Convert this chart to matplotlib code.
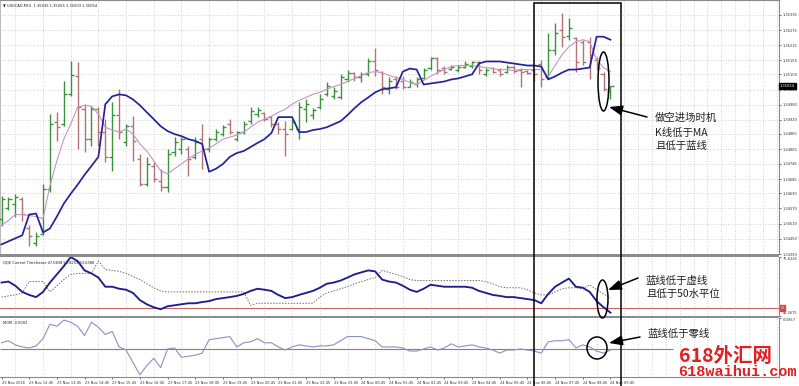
import matplotlib
matplotlib.use("Agg")
import matplotlib.pyplot as plt
from matplotlib.patches import Ellipse, Rectangle
from matplotlib.transforms import blended_transform_factory
import numpy as np

# ---------------- data ----------------
opens = [1.34530, 1.34570, 1.34589, 1.34609, 1.34491, 1.34432, 1.34471, 1.34648, 1.34911, 1.34903,
         1.35021, 1.35092, 1.34962, 1.34844, 1.34962, 1.34872, 1.34774, 1.34939, 1.34833, 1.34895,
         1.34766, 1.34668, 1.34738, 1.34679, 1.34656, 1.34793, 1.34805, 1.34805, 1.34774, 1.34844,
         1.34805, 1.34844, 1.34864, 1.34903, 1.34844, 1.34872, 1.34915, 1.34943, 1.34946, 1.34931,
         1.34903, 1.34884, 1.34884, 1.34884, 1.34962, 1.34939, 1.34970, 1.35021, 1.35013, 1.35009,
         1.35080, 1.35107, 1.35088, 1.35100, 1.35151, 1.35111, 1.35041, 1.35080, 1.35072, 1.35052,
         1.35060, 1.35084, 1.35127, 1.35166, 1.35127, 1.35123, 1.35119, 1.35131, 1.35135, 1.35147,
         1.35103, 1.35127, 1.35119, 1.35111, 1.35131, 1.35119, 1.35115, 1.35119, 1.35143, 1.35088,
         1.35198, 1.35276, 1.35253, 1.35245, 1.35229, 1.35229, 1.35158, 1.35100, 1.35035]
highs = [1.34621, 1.34617, 1.34628, 1.34617, 1.34503, 1.34475, 1.34668, 1.34943, 1.34950, 1.35072,
         1.35151, 1.35147, 1.34982, 1.34974, 1.34970, 1.34923, 1.34990, 1.35041, 1.34903, 1.34935,
         1.34785, 1.34774, 1.34754, 1.34727, 1.34805, 1.34852, 1.34852, 1.34817, 1.34852, 1.34903,
         1.34852, 1.34884, 1.34899, 1.34923, 1.34876, 1.34915, 1.34970, 1.34970, 1.34950, 1.34935,
         1.34911, 1.34915, 1.34923, 1.34990, 1.35001, 1.34966, 1.35021, 1.35068, 1.35049, 1.35100,
         1.35119, 1.35111, 1.35111, 1.35166, 1.35206, 1.35115, 1.35088, 1.35092, 1.35092, 1.35080,
         1.35088, 1.35127, 1.35170, 1.35170, 1.35135, 1.35139, 1.35139, 1.35151, 1.35151, 1.35151,
         1.35127, 1.35131, 1.35127, 1.35139, 1.35139, 1.35127, 1.35119, 1.35127, 1.35158, 1.35264,
         1.35304, 1.35343, 1.35323, 1.35249, 1.35237, 1.35249, 1.35170, 1.35111, 1.35055]
lows = [1.34499, 1.34562, 1.34538, 1.34522, 1.34420, 1.34420, 1.34464, 1.34636, 1.34837, 1.34895,
        1.35013, 1.34805, 1.34793, 1.34817, 1.34817, 1.34754, 1.34719, 1.34844, 1.34817, 1.34758,
        1.34660, 1.34660, 1.34676, 1.34640, 1.34636, 1.34778, 1.34785, 1.34699, 1.34766, 1.34727,
        1.34793, 1.34837, 1.34856, 1.34864, 1.34837, 1.34864, 1.34903, 1.34931, 1.34915, 1.34891,
        1.34864, 1.34778, 1.34880, 1.34844, 1.34911, 1.34923, 1.34962, 1.35013, 1.35001, 1.35001,
        1.35068, 1.35072, 1.35068, 1.35092, 1.35092, 1.35021, 1.35021, 1.35041, 1.35041, 1.35049,
        1.35052, 1.35080, 1.35119, 1.35100, 1.35100, 1.35119, 1.35111, 1.35127, 1.35127, 1.35100,
        1.35092, 1.35107, 1.35092, 1.35107, 1.35107, 1.35052, 1.35100, 1.35072, 1.35049, 1.35080,
        1.35178, 1.35209, 1.35237, 1.35111, 1.35139, 1.35080, 1.35119, 1.35033, 1.35003]
closes = [1.34609, 1.34609, 1.34617, 1.34550, 1.34460, 1.34460, 1.34648, 1.34903, 1.34891, 1.35021,
          1.35096, 1.34970, 1.34844, 1.34962, 1.34872, 1.34774, 1.34939, 1.34872, 1.34895, 1.34837,
          1.34668, 1.34746, 1.34687, 1.34656, 1.34785, 1.34833, 1.34844, 1.34766, 1.34833, 1.34805,
          1.34844, 1.34872, 1.34891, 1.34872, 1.34872, 1.34903, 1.34954, 1.34958, 1.34923, 1.34903,
          1.34884, 1.34864, 1.34911, 1.34970, 1.34982, 1.34958, 1.35001, 1.35056, 1.35033, 1.35088,
          1.35107, 1.35088, 1.35103, 1.35151, 1.35119, 1.35049, 1.35072, 1.35052, 1.35049, 1.35068,
          1.35080, 1.35119, 1.35166, 1.35119, 1.35111, 1.35131, 1.35131, 1.35143, 1.35147, 1.35119,
          1.35119, 1.35111, 1.35100, 1.35131, 1.35115, 1.35111, 1.35107, 1.35103, 1.35080, 1.35198,
          1.35264, 1.35249, 1.35284, 1.35147, 1.35147, 1.35178, 1.35127, 1.35041, 1.35054]
ma_line = [1.34503, 1.34522, 1.34546, 1.34546, 1.34542, 1.34538, 1.34530, 1.34660, 1.34758, 1.34844,
           1.34903, 1.34970, 1.34978, 1.34974, 1.34943, 1.34891, 1.34880, 1.34872, 1.34884, 1.34864,
           1.34825, 1.34797, 1.34758, 1.34719, 1.34707, 1.34727, 1.34746, 1.34766, 1.34785, 1.34797,
           1.34809, 1.34825, 1.34844, 1.34852, 1.34860, 1.34872, 1.34891, 1.34911, 1.34923, 1.34935,
           1.34950, 1.34962, 1.34982, 1.34997, 1.35009, 1.35021, 1.35029, 1.35041, 1.35052, 1.35060,
           1.35072, 1.35084, 1.35096, 1.35107, 1.35111, 1.35107, 1.35096, 1.35088, 1.35080, 1.35068,
           1.35060, 1.35076, 1.35092, 1.35107, 1.35119, 1.35131, 1.35135, 1.35135, 1.35135, 1.35131,
           1.35127, 1.35123, 1.35119, 1.35119, 1.35115, 1.35119, 1.35119, 1.35119, 1.35119, 1.35092,
           1.35135, 1.35178, 1.35209, 1.35229, 1.35237, 1.35229, 1.35158, 1.35127, 1.35111]
blue_line = [1.34428, 1.34440, 1.34452, 1.34464, 1.34546, 1.34550, 1.34475, 1.34491, 1.34538, 1.34589,
             1.34628, 1.34664, 1.34703, 1.34738, 1.34774, 1.34982, 1.35013, 1.35021, 1.35017, 1.35001,
             1.34978, 1.34950, 1.34923, 1.34895, 1.34876, 1.34864, 1.34856, 1.34844, 1.34837, 1.34825,
             1.34715, 1.34727, 1.34746, 1.34774, 1.34789, 1.34797, 1.34813, 1.34829, 1.34844, 1.34868,
             1.34931, 1.34931, 1.34931, 1.34872, 1.34872, 1.34880, 1.34884, 1.34891, 1.34903, 1.34915,
             1.34939, 1.34966, 1.34990, 1.35009, 1.35029, 1.35041, 1.35045, 1.35049, 1.35111, 1.35123,
             1.35119, 1.35060, 1.35064, 1.35068, 1.35072, 1.35080, 1.35084, 1.35092, 1.35100, 1.35143,
             1.35151, 1.35151, 1.35151, 1.35147, 1.35143, 1.35139, 1.35135, 1.35135, 1.35131, 1.35080,
             1.35092, 1.35107, 1.35119, 1.35119, 1.35123, 1.35127, 1.35249, 1.35249, 1.35237]
qqe_rsi = [62.8, 63.3, 61.2, 58.1, 56.6, 55.5, 58.1, 62.8, 66.9, 71.0,
           75.6, 73.6, 68.9, 67.4, 65.3, 60.7, 60.7, 59.7, 59.2, 57.6,
           54.0, 51.9, 50.4, 49.4, 50.9, 51.4, 51.9, 52.4, 52.4, 53.0,
           53.5, 54.5, 55.0, 55.5, 56.1, 57.1, 58.6, 59.7, 59.2, 58.6,
           56.6, 55.0, 55.5, 56.6, 57.6, 58.6, 60.2, 62.2, 62.8, 63.8,
           65.3, 66.9, 67.9, 68.9, 68.4, 64.3, 63.3, 62.8, 61.2, 59.2,
           58.1, 59.7, 61.7, 61.2, 60.7, 60.7, 60.7, 60.7, 60.2, 58.6,
           57.6, 56.6, 56.1, 55.5, 55.5, 55.0, 54.5, 54.0, 52.4, 57.1,
           60.7, 62.8, 64.8, 60.7, 60.2, 58.1, 53.5, 50.4, 47.7]
qqe_trail = [55.5, 56.1, 56.6, 57.6, 63.3, 63.3, 63.3, 58.1, 61.2, 64.3,
             66.9, 67.4, 67.4, 67.4, 73.6, 69.4, 68.9, 68.4, 67.4, 65.8,
             64.3, 62.2, 60.2, 58.6, 58.1, 58.1, 58.1, 58.1, 58.1, 58.1,
             58.1, 58.1, 58.1, 58.1, 58.1, 58.1, 51.4, 52.4, 52.4, 52.4,
             52.4, 52.4, 52.4, 52.4, 52.4, 52.4, 55.5, 57.6, 58.6, 59.7,
             60.7, 62.2, 63.3, 64.3, 65.3, 68.9, 67.9, 66.9, 65.8, 64.3,
             63.8, 63.8, 63.8, 63.8, 63.8, 63.8, 63.8, 63.8, 63.8, 63.8,
             63.3, 62.2, 60.7, 60.2, 60.2, 60.2, 59.2, 57.6, 56.6, 56.6,
             58.1, 59.7, 60.2, 60.2, 59.7, 61.7, 59.2, 57.1, 55.0]
mom = [0.00114, 0.00152, 0.00076, 0.00038, 0.00019, 0.00057, 0.00190, 0.00456, 0.00418, 0.00532,
       0.00494, 0.00418, 0.00247, 0.00494, 0.00399, 0.00266, 0.00323, 0.00038, -0.00019, -0.00247,
       -0.00475, -0.00304, -0.00171, -0.00342, 0.00000, 0.00019, -0.00152, -0.00133, -0.00114, -0.00076,
       0.00171, 0.00190, 0.00209, 0.00228, 0.00038, 0.00114, 0.00133, 0.00190, 0.00114, 0.00114,
       0.00038, -0.00019, 0.00038, 0.00076, 0.00057, 0.00038, 0.00057, 0.00057, 0.00076, 0.00152,
       0.00228, 0.00228, 0.00228, 0.00190, 0.00152, 0.00038, 0.00038, 0.00038, 0.00019, -0.00038,
       -0.00038, 0.00000, 0.00038, -0.00019, 0.00019, 0.00095, 0.00038, 0.00057, 0.00076, 0.00038,
       0.00019, -0.00019, -0.00076, -0.00019, -0.00019, 0.00000, -0.00019, -0.00038, -0.00076, 0.00133,
       0.00152, 0.00152, 0.00171, 0.00019, 0.00076, 0.00038, -0.00038, -0.00076, -0.00020]
time_labels = ["23 Nov 2016", "23 Nov 12:45", "23 Nov 13:45", "23 Nov 14:45", "23 Nov 15:45",
               "23 Nov 16:45", "23 Nov 17:45", "23 Nov 18:45", "23 Nov 19:45", "23 Nov 20:45",
               "23 Nov 21:45", "23 Nov 22:45", "23 Nov 23:45", "24 Nov 00:45", "24 Nov 01:45",
               "24 Nov 02:45", "24 Nov 03:45", "24 Nov 04:45", "24 Nov 05:45", "24 Nov 06:45",
               "24 Nov 07:45", "24 Nov 08:45", "24 Nov 09:45"]
price_ticks = [1.35335, 1.35275, 1.35215, 1.35155, 1.35100, 1.35040, 1.34980, 1.34920, 1.34865,
               1.34805, 1.34746, 1.34685, 1.34630, 1.34570, 1.34510, 1.34450, 1.34390]
price_range = (1.34390, 1.35394)
qqe_range = (46.2675, 75.6226)
qqe_level = 50
mom_range = (-0.00515, 0.0057)
mom_top_label = 0.0057
last_price = 1.35054
mom_zero_end_bar = 97.0
header_main = "\u25bc USDCAD,M15  1.35035 1.35055 1.35003 1.35054"
header_qqe = "QQE Current Timeframe 47.6838 53.8209 53.6388"
header_mom = "MOM -0.0002"

# ---------------- layout ----------------
W, H = 799, 386
fig = plt.figure(figsize=(W / 100, H / 100), dpi=100)
fig.patch.set_facecolor("white")
plt.rcParams["font.family"] = ["DejaVu Sans"]
CJK = ["Noto Sans CJK SC", "DejaVu Sans"]


def px_axes(x0, y0, x1, y1, z=1):
    return fig.add_axes([x0 / W, 1 - y1 / H, (x1 - x0) / W, (y1 - y0) / H], zorder=z)


BAR_PX = 6.92
FIRST_PX = 1.5
AXIS_PX = 779
xlo = -FIRST_PX / BAR_PX
xhi = (AXIS_PX - FIRST_PX) / BAR_PX
n = len(closes)
x = np.arange(n)

ax = px_axes(0, 0, AXIS_PX, 254)
axq = px_axes(0, 257, AXIS_PX, 315.5)
axm = px_axes(0, 318, AXIS_PX, 377)

GRID = dict(color="#c4c4c4", lw=0.6, ls=(0, (1, 2)))
SMALL = 2.6
LABEL_C = "#333333"
FRAME_C = "#8a8a8a"

for a in (ax, axq, axm):
    a.set_xlim(xlo, xhi)
    a.set_xticks(np.arange(0, n, 4))
    a.set_xticks(np.arange(0, xhi, 2), minor=True)
    a.grid(True, which="minor", axis="x", **GRID)
    a.yaxis.tick_right()
    a.tick_params(axis="y", length=1.5, width=0.5, pad=1, labelsize=SMALL, colors=LABEL_C)
    a.tick_params(axis="x", which="both", length=0, labelbottom=False)
    for s in a.spines.values():
        s.set_visible(False)
    a.spines["right"].set_visible(True)
    a.spines["right"].set_color(FRAME_C)
    a.spines["right"].set_linewidth(0.8)
    a.set_axisbelow(True)

# ---- main price panel ----
ax.set_ylim(*price_range)
ax.set_yticks(price_ticks)
ax.set_yticklabels([f"{p:.5f}" for p in price_ticks])
ax.grid(True, which="major", axis="y", **GRID)
ax.spines["top"].set_visible(True)
ax.spines["top"].set_color(FRAME_C)
ax.spines["left"].set_visible(True)
ax.spines["left"].set_color("#bbbbbb")

o = np.array(opens); c = np.array(closes)
UP, DOWN = "#3a933a", "#b07474"
cols = np.where(c >= o, UP, DOWN)
ax.vlines(x, lows, highs, colors=cols, lw=1.0, zorder=3)
ax.hlines(o, x - 0.45, x, colors=cols, lw=1.0, zorder=3)
ax.hlines(c, x, x + 0.45, colors=cols, lw=1.0, zorder=3)
ax.plot(x, ma_line, color="#c693c6", lw=0.8, zorder=4)
ax.plot(x, blue_line, color="#23239a", lw=1.25, zorder=5)

ax.text(0.004, 0.98, header_main, transform=ax.transAxes, fontsize=SMALL, va="center",
        ha="left", color="#222222")
bt = blended_transform_factory(ax.transAxes, ax.transData)
ax.text(1.001, last_price, f"{last_price:.5f}", transform=bt, fontsize=SMALL, color="white",
        va="center", ha="left", clip_on=False, zorder=20,
        bbox=dict(boxstyle="square,pad=0.3", fc="black", ec="black"))

# ---- QQE panel ----
axq.set_ylim(*qqe_range)
axq.plot(x, qqe_trail, color="#6e6e6e", lw=0.7, ls=(0, (1.5, 1.5)), zorder=3)
axq.plot(x, qqe_rsi, color="#1e1e8c", lw=1.35, zorder=4)
axq.axhline(qqe_level, color="#c86464", lw=0.8, zorder=2)
axq.set_yticks(list(qqe_range))
axq.set_yticklabels([f"{qqe_range[0]:.4f}", f"{qqe_range[1]:.4f}"])
ql = axq.get_yticklabels()
ql[0].set_va("bottom"); ql[1].set_va("top")
axq.text(0.004, 0.91, header_qqe, transform=axq.transAxes, fontsize=SMALL, va="center",
         ha="left", color="#222222")
bq = blended_transform_factory(axq.transAxes, axq.transData)
axq.text(1.002, qqe_level, f"{qqe_level}", transform=bq, fontsize=2.2, color="#ffdddd",
         va="center", ha="left", clip_on=False, zorder=20,
         bbox=dict(boxstyle="square,pad=0.3", fc="#d04848", ec="#d04848"))

# ---- Momentum panel ----
axm.set_ylim(*mom_range)
axm.plot(x, mom, color="#8e8ec0", lw=0.8, zorder=4)
axm.hlines(0, xlo, mom_zero_end_bar, color="#c86464", lw=0.8, zorder=2)
axm.set_yticks([mom_top_label])
axm.set_yticklabels([f"{mom_top_label:.4f}"])
axm.get_yticklabels()[0].set_va("top")
axm.text(0.004, 0.92, header_mom, transform=axm.transAxes, fontsize=SMALL, va="center",
         ha="left", color="#222222")
axm.spines["bottom"].set_visible(True)
axm.spines["bottom"].set_color(FRAME_C)
axm.tick_params(axis="x", which="major", length=1.5, width=0.5, labelbottom=True,
                labelsize=SMALL, colors=LABEL_C, pad=1.5)
axm.set_xticklabels(time_labels)
for lbl in axm.get_xticklabels():
    lbl.set_ha("left")

# ---------------- overlay annotations (pixel layout) ----------------
ov = fig.add_axes([0, 0, 1, 1], zorder=10)
ov.set_xlim(0, W)
ov.set_ylim(H, 0)
ov.axis("off")
ov.patch.set_alpha(0)

ov.add_patch(Rectangle((0, 254), AXIS_PX, 3, fc="#8c8c8c", ec="none"))
ov.add_patch(Rectangle((0, 315.5), AXIS_PX, 2.5, fc="#8c8c8c", ec="none"))

ov.plot([534, 534, 621, 621], [H, 2.5, 2.5, H], color="black", lw=1.1, solid_joinstyle="miter")

for (cx, cy, ew, eh) in [(603.5, 81.5, 11, 59), (602.5, 299, 11, 38), (597, 348, 20, 22)]:
    ov.add_patch(Ellipse((cx, cy), ew, eh, fill=False, ec="black", lw=1.1))

arrow = dict(arrowstyle="-|>,head_length=0.8,head_width=0.3", color="black", lw=1.1,
             shrinkA=0, shrinkB=0, mutation_scale=10)
ov.annotate("", xy=(609, 107), xytext=(647, 117), arrowprops=arrow)
ov.annotate("", xy=(608, 290), xytext=(638, 278), arrowprops=arrow)
ov.annotate("", xy=(609, 343), xytext=(640, 337), arrowprops=arrow)

TXT = dict(fontsize=7.5, va="center", ha="left", family=CJK, color="#222222")
ov.text(655, 118, "做空进场时机", **TXT)
ov.text(655, 133, "K线低于MA", **TXT)
ov.text(655, 146, "且低于蓝线", **TXT)
ov.text(646, 281, "蓝线低于虚线", **TXT)
ov.text(646, 294, "且低于50水平位", **TXT)
ov.text(648, 334, "蓝线低于零线", **TXT)

ov.text(679, 357, "618外汇网", fontsize=14, fontweight="bold", color="#e02020",
        family=["Noto Sans CJK SC", "DejaVu Sans"], va="center", ha="left")
ov.text(678, 372, "618waihui.com", fontsize=11, fontweight="bold", color="#e02020",
        family=["Liberation Mono", "DejaVu Sans Mono"], va="center", ha="left")

fig.savefig("out.png", dpi=100, facecolor="white")
